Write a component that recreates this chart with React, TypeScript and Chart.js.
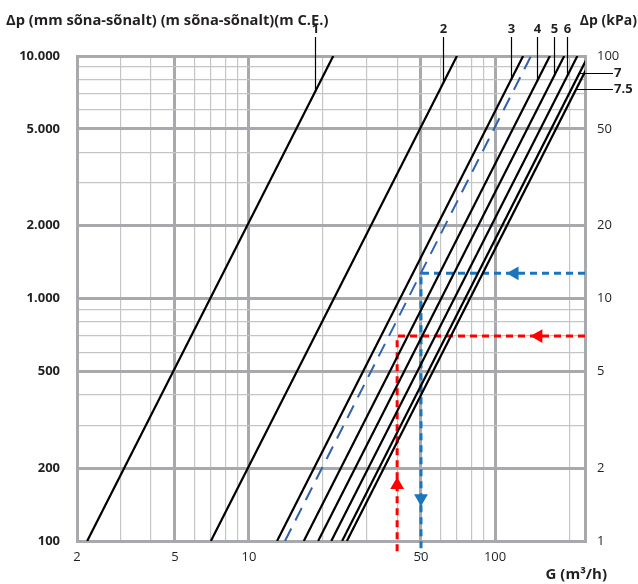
import React, { useEffect, useRef } from 'react';
import { Chart, registerables } from 'chart.js';

Chart.register(...registerables);

// ---- data -------------------------------------------------------------
// Characteristic curves: flow G (m³/h) where each curve crosses Δp = 100 and Δp = 10.000
const curveNames = ['1', '2', '3', '4', '5', '6', '7', '7.5'];
const flowAtLow = [2.2, 7.0, 13.0, 16.7, 19.1, 21.6, 23.9, 25.0];
const flowAtHigh = [22, 70, 130, 167, 191, 216, 239, 250];
const dpLow = 100;
const dpHigh = 10000;

// dashed blue characteristic
const dashedFlow = [14, 140];

// reading examples
const blueFlow = 50;
const blueDp = 1270;
const redFlow = 40;
const redDp = 700;
const belowAxisDp = 88;
const arrowFlow = [120, 50, 150, 40];
const arrowDp = [1270, 150, 700, 170];
const arrowRotation = [-90, 180, -90, 0];
const arrowColors = ['#1b75bc', '#1b75bc', '#ff0000', '#ff0000'];

// axis ranges and ticks
const gMin = 2;
const gMax = 232;
const xTickValues = [2, 3, 4, 5, 6, 7, 8, 9, 10, 20, 30, 40, 50, 60, 70, 80, 90, 100, 200];
const xLabelValues = [2, 5, 10, 50, 100];
const xMajorValues = [2, 5, 10, 50, 100];
const yTickValues = [100, 200, 300, 400, 500, 600, 700, 800, 900, 1000, 2000, 3000, 4000, 5000, 6000, 7000, 8000, 9000, 10000];
const yMajorValues = [100, 200, 500, 1000, 2000, 5000, 10000];
const yLabelTexts = ['100', '200', '500', '1.000', '2.000', '5.000', '10.000'];
const kPaValues = [1, 2, 5, 10, 20, 50, 100];
const kPaTexts = ['1', '2', '5', '10', '20', '50', '100'];

// label leaders
const leaderFlow = [18.5, 61.5, 116, 148, 174, 196]; // curves 1–6
const leaderDpSide = [8500, 7300]; // curves 7, 7.5

// ---- styles -----------------------------------------------------------
const MAJOR = '#a7a9ac';
const MINOR = '#c4c5c7';
const DARK = '#231f20';
const FONT = '"Open Sans", "DejaVu Sans", sans-serif';

const dpOnCurve = (i: number, g: number) => {
  const t = Math.log(g / flowAtLow[i]) / Math.log(flowAtHigh[i] / flowAtLow[i]);
  return dpLow * Math.pow(dpHigh / dpLow, t);
};
const flowOnCurve = (i: number, dp: number) => {
  const t = Math.log(dp / dpLow) / Math.log(dpHigh / dpLow);
  return flowAtLow[i] * Math.pow(flowAtHigh[i] / flowAtLow[i], t);
};

const textPlugin = {
  id: 'texts',
  afterDraw(chart: any) {
    const { ctx } = chart;
    const x = chart.scales.x;
    const y = chart.scales.y;
    ctx.save();
    ctx.fillStyle = DARK;
    ctx.textBaseline = 'middle';
    ctx.font = `bold 14.7px ${FONT}`;
    ctx.textAlign = 'left';
    ctx.fillText('Δp (mm sõna-sõnalt) (m sõna-sõnalt)(m C.E.)', 6, 21);
    ctx.textAlign = 'right';
    ctx.font = `bold 14px ${FONT}`;
    ctx.fillText('Δp (kPa)', 637, 21);
    ctx.font = `bold 15px ${FONT}`;
    ctx.fillText('G (m³/h)', 607, 575);

    ctx.strokeStyle = '#000';
    ctx.lineWidth = 1.2;
    ctx.font = `bold 13px ${FONT}`;
    ctx.textAlign = 'center';
    leaderFlow.forEach((g, i) => {
      const px = Math.round(x.getPixelForValue(g)) + 0.5;
      const py = y.getPixelForValue(dpOnCurve(i, g));
      ctx.beginPath();
      ctx.moveTo(px, 37);
      ctx.lineTo(px, py);
      ctx.stroke();
      ctx.fillText(curveNames[i], px, 29);
    });
    ctx.textAlign = 'left';
    leaderDpSide.forEach((dp, k) => {
      const i = 6 + k;
      const px = x.getPixelForValue(flowOnCurve(i, dp));
      const py = Math.round(y.getPixelForValue(dp)) + 0.5;
      ctx.beginPath();
      ctx.moveTo(px, py);
      ctx.lineTo(613, py);
      ctx.stroke();
      ctx.fillText(curveNames[i], 614, py);
    });
    ctx.restore();
  },
};

export default function App() {
  const ref = useRef<HTMLCanvasElement>(null);

  useEffect(() => {
    if (!ref.current) return;
    const curveSets = curveNames.map((n, i) => ({
      label: n,
      data: [
        { x: flowAtLow[i], y: dpLow },
        { x: flowAtHigh[i], y: dpHigh },
      ],
      showLine: true,
      borderColor: '#000',
      borderWidth: 2.2,
      pointRadius: 0,
    }));
    const chart = new Chart(ref.current, {
      type: 'scatter',
      data: {
        datasets: [
          ...curveSets,
          {
            label: 'dashed',
            data: [
              { x: dashedFlow[0], y: dpLow },
              { x: dashedFlow[1], y: dpHigh },
            ],
            showLine: true,
            borderColor: '#3262ad',
            borderWidth: 2,
            borderDash: [14, 9],
            pointRadius: 0,
          },
          {
            label: 'blue',
            data: [
              { x: gMax, y: blueDp },
              { x: blueFlow, y: blueDp },
              { x: blueFlow, y: belowAxisDp },
            ],
            showLine: true,
            borderColor: '#1b75bc',
            borderWidth: 3,
            borderDash: [7, 5],
            borderJoinStyle: 'miter',
            pointRadius: 0,
            clip: false,
          },
          {
            label: 'red',
            data: [
              { x: gMax, y: redDp },
              { x: redFlow, y: redDp },
              { x: redFlow, y: belowAxisDp },
            ],
            showLine: true,
            borderColor: '#ff0000',
            borderWidth: 3,
            borderDash: [7, 5],
            borderJoinStyle: 'miter',
            pointRadius: 0,
            clip: false,
          },
          {
            label: 'arrows',
            data: arrowFlow.map((g, i) => ({ x: g, y: arrowDp[i] })),
            showLine: false,
            pointStyle: 'triangle',
            pointRadius: 8,
            rotation: arrowRotation,
            backgroundColor: arrowColors,
            borderWidth: 0,
            borderColor: arrowColors,
            clip: false,
          },
        ] as any,
      },
      options: {
        animation: false,
        responsive: false,
        devicePixelRatio: 1,
        layout: { padding: { top: 56, left: 0, right: 0, bottom: 0 } },
        plugins: { legend: { display: false }, tooltip: { enabled: false } },
        events: [],
        scales: {
          x: {
            type: 'logarithmic',
            position: 'bottom',
            min: gMin,
            max: gMax,
            afterBuildTicks: (s: any) => {
              s.ticks = xTickValues.map((v) => ({ value: v }));
            },
            afterFit: (s: any) => {
              s.height = 43;
            },
            grid: {
              drawTicks: false,
              color: (c: any) => (xMajorValues.includes(c.tick?.value) ? MAJOR : MINOR),
              lineWidth: (c: any) => (xMajorValues.includes(c.tick?.value) ? 3 : 1.2),
            },
            border: { display: true, color: MAJOR, width: 3 },
            ticks: {
              autoSkip: false,
              maxRotation: 0,
              padding: 8,
              color: DARK,
              font: { family: FONT, size: 13 },
              callback: (v: any) => (xLabelValues.includes(Number(v)) ? String(v) : ''),
            },
          },
          y: {
            type: 'logarithmic',
            position: 'left',
            min: dpLow,
            max: dpHigh,
            afterBuildTicks: (s: any) => {
              s.ticks = yTickValues.map((v) => ({ value: v }));
            },
            afterFit: (s: any) => {
              s.width = 77;
            },
            grid: {
              drawTicks: false,
              color: (c: any) => (yMajorValues.includes(c.tick?.value) ? MAJOR : MINOR),
              lineWidth: (c: any) => (yMajorValues.includes(c.tick?.value) ? 3 : 1.2),
            },
            border: { display: true, color: MAJOR, width: 3 },
            ticks: {
              autoSkip: false,
              padding: 17,
              color: DARK,
              font: { family: FONT, size: 13, weight: 'bold' },
              callback: (v: any) => {
                const k = yMajorValues.indexOf(Number(v));
                return k >= 0 ? yLabelTexts[k] : '';
              },
            },
          },
          y2: {
            type: 'logarithmic',
            position: 'right',
            min: kPaValues[0],
            max: kPaValues[kPaValues.length - 1],
            afterBuildTicks: (s: any) => {
              s.ticks = kPaValues.map((v) => ({ value: v }));
            },
            afterFit: (s: any) => {
              s.width = 53;
            },
            grid: { display: false, drawTicks: false },
            border: { display: true, color: MAJOR, width: 3 },
            ticks: {
              autoSkip: false,
              padding: 12,
              color: DARK,
              font: { family: FONT, size: 13 },
              callback: (v: any) => {
                const k = kPaValues.indexOf(Number(v));
                return k >= 0 ? kPaTexts[k] : '';
              },
            },
          },
        },
      } as any,
      plugins: [textPlugin],
    });
    return () => chart.destroy();
  }, []);

  return (
    <div style={{ position: 'absolute', left: 0, top: 0, width: 638, height: 584, background: '#fff' }}>
      <canvas ref={ref} width={638} height={584} style={{ display: 'block' }} />
    </div>
  );
}
